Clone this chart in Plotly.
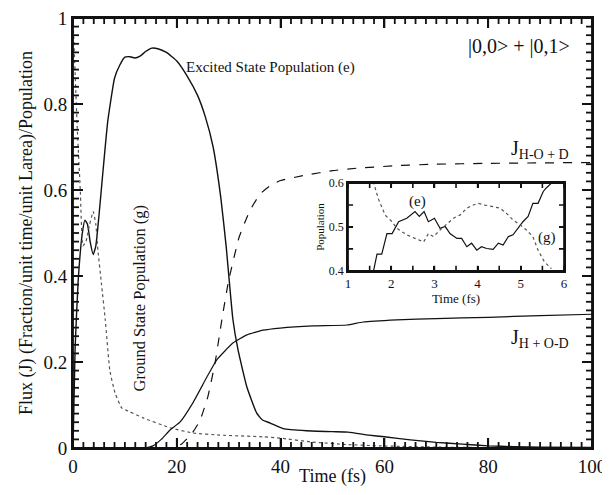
import plotly.graph_objects as go

# ---------------- main data ----------------
t_e = [0, 0.4, 1.0, 1.8, 2.3, 2.8, 3.3, 3.9, 4.4, 5.0, 5.6, 6.7, 8.0, 9.0, 10.0, 11.0, 11.9, 13.0, 14.0, 15.2, 16.5, 18.0,
       20.0, 22.0, 24.0, 25.5, 27.0, 28.5, 29.5, 30.8, 31.8, 33.5, 35.4, 36.5, 38.0, 40.5, 45.0, 50.0, 53.0,
       57.0, 60.0, 65.0, 70.0, 75.0, 80.0, 85.0, 90.0, 100.0]
excited = [0.0, 0.23, 0.39, 0.5, 0.53, 0.52, 0.48, 0.45, 0.47, 0.54, 0.62, 0.76, 0.86, 0.89, 0.909, 0.91, 0.907, 0.912, 0.922, 0.93, 0.928, 0.92,
           0.9, 0.865, 0.82, 0.77, 0.7, 0.58, 0.47, 0.3, 0.228, 0.142, 0.081, 0.065, 0.058, 0.045, 0.04, 0.038, 0.037,
           0.03, 0.026, 0.019, 0.013, 0.009, 0.005, 0.003, 0.002, 0.001]

t_g = [0, 0.8, 1.4, 1.9, 2.5, 3.2, 3.9, 4.4, 4.8, 5.5, 6.2, 7.1, 8.1, 9.4, 11.0, 13.5, 18.7, 23.1, 28.3, 36.6, 39.9,
       46.0, 52.8, 59.0, 70.0, 80.0, 100.0]
ground = [1.0, 0.75, 0.6, 0.47, 0.48, 0.52, 0.55, 0.52, 0.46, 0.38, 0.3, 0.18, 0.128, 0.093, 0.084, 0.07, 0.047, 0.035, 0.03, 0.026, 0.023,
          0.014, 0.008, 0.005, 0.002, 0.001, 0.0]

t_jd = [0, 19.5, 21.0, 23.0, 24.5, 26.0, 27.4, 28.7, 30.0, 32.0, 34.0, 36.0, 38.0, 40.0, 45.0, 50.0, 55.0,
        63.0, 70.0, 80.0, 90.0, 100.0]
j_hod = [0, 0, 0.01, 0.035, 0.065, 0.12, 0.2, 0.3, 0.39, 0.49, 0.55, 0.59, 0.61, 0.622, 0.635, 0.645, 0.651,
         0.657, 0.66, 0.662, 0.663, 0.664]

t_jh = [0, 13.7, 15.4, 17.0, 18.7, 20.6, 23.1, 25.8, 27.7, 30.8, 33.5, 36.6, 39.9, 46.2, 52.8, 55.9,
        62.4, 70.0, 80.0, 90.0, 100.0]
j_hod2 = [0, 0, 0.005, 0.02, 0.042, 0.06, 0.105, 0.165, 0.205, 0.244, 0.263, 0.274, 0.279, 0.284, 0.286, 0.293,
          0.298, 0.301, 0.304, 0.308, 0.311]

# ---------------- inset data ----------------
ti_e = [1.59, 1.67, 1.78, 1.9, 2.02, 2.17, 2.36, 2.55, 2.65, 2.76, 2.86, 3.0, 3.13, 3.25, 3.36, 3.52, 3.63,
        3.75, 3.86, 3.98, 4.09, 4.21, 4.36, 4.48, 4.59, 4.71, 4.82, 4.94, 5.05, 5.17, 5.28, 5.4, 5.52, 5.59, 5.71]
ins_e = [0.4, 0.438, 0.438, 0.485, 0.485, 0.512, 0.52, 0.535, 0.524, 0.535, 0.512, 0.52, 0.497, 0.501, 0.485,
         0.474, 0.474, 0.455, 0.463, 0.447, 0.455, 0.451, 0.449, 0.463, 0.459, 0.478, 0.482, 0.497, 0.512, 0.524,
         0.554, 0.554, 0.581, 0.589, 0.6]
ti_g = [1.5, 1.59, 1.71, 1.86, 2.02, 2.13, 2.36, 2.55, 2.75, 2.86, 2.98, 3.13, 3.28, 3.44, 3.59, 3.75, 3.9,
        4.02, 4.17, 4.32, 4.52, 4.67, 4.82, 4.98, 5.13, 5.28, 5.4, 5.55, 5.71]
ins_g = [0.63, 0.6, 0.562, 0.527, 0.512, 0.497, 0.482, 0.474, 0.466, 0.485, 0.478, 0.493, 0.505, 0.52, 0.527,
         0.543, 0.55, 0.554, 0.55, 0.547, 0.543, 0.531, 0.516, 0.505, 0.493, 0.478, 0.447, 0.42, 0.405]

# ---------------- ticks ----------------
x_ticks = [0, 20, 40, 60, 80, 100]
x_minor = [v for v in range(0, 101, 2) if v % 20]
y_ticks = [0, 0.2, 0.4, 0.6, 0.8, 1]
y_ticklabels = ["0", "0.2", "0.4", "0.6", "0.8", "1"]
y_minor = [i / 50 for i in range(0, 51) if i % 10]
ins_xticks = [1, 2, 3, 4, 5, 6]
ins_xall = [1, 1.5, 2, 2.5, 3, 3.5, 4, 4.5, 5, 5.5, 6]
ins_yticks = [0.4, 0.5, 0.6]
ins_ylabels = ["0.4", "0.5", "0.6"]
ins_yall = [0.4, 0.45, 0.5, 0.55, 0.6]

FONT = "Liberation Serif"
BLK = "#111111"

# figure geometry (plot area 519 x 430 px)
W, H = 594, 479
ML, MR, MT, MB = 65, 10, 10, 39
PW, PH = W - ML - MR, H - MT - MB
XR, YR = (0, 100), (0, 1)
IXR, IYR = (1, 6), (0.4, 0.6)
IXD, IYD = (0.530, 0.946), (0.412, 0.616)


def vsegs(vals, a, b):
    xs, ys = [], []
    for v in vals:
        xs += [v, v, None]
        ys += [a, b, None]
    return xs, ys


def hsegs(vals, a, b):
    ys, xs = vsegs(vals, a, b)
    return xs, ys


fig = go.Figure()
fig.add_trace(go.Scatter(x=t_e, y=excited, mode="lines", line=dict(color=BLK, width=1.4, shape="spline", smoothing=0.4)))
fig.add_trace(go.Scatter(x=t_g, y=ground, mode="lines", line=dict(color="#555555", width=1.2, dash="dot", shape="spline", smoothing=0.4)))
fig.add_trace(go.Scatter(x=t_jd, y=j_hod, mode="lines", line=dict(color=BLK, width=1.2, dash="dash", shape="spline", smoothing=0.4)))
fig.add_trace(go.Scatter(x=t_jh, y=j_hod2, mode="lines", line=dict(color=BLK, width=1.2, shape="spline", smoothing=0.4)))

fig.add_trace(go.Scatter(x=ti_e, y=ins_e, mode="lines", xaxis="x2", yaxis="y2", line=dict(color=BLK, width=1.2)))
fig.add_trace(go.Scatter(x=ti_g, y=ins_g, mode="lines", xaxis="x2", yaxis="y2", line=dict(color="#555555", width=1.2, dash="dot")))

# tick marks (inside, on all four sides), lengths converted from pixels to data units
px_x = (XR[1] - XR[0]) / PW
px_y = (YR[1] - YR[0]) / PH
tick_sets = []
for vals, L in ((x_ticks, 10), (x_minor, 6)):
    tick_sets.append(vsegs(vals, YR[0], YR[0] + L * px_y))
    tick_sets.append(vsegs(vals, YR[1], YR[1] - L * px_y))
for vals, L in ((y_ticks, 10), (y_minor, 6)):
    tick_sets.append(hsegs(vals, XR[0], XR[0] + L * px_x))
    tick_sets.append(hsegs(vals, XR[1], XR[1] - L * px_x))
for xs, ys in tick_sets:
    fig.add_trace(go.Scatter(x=xs, y=ys, mode="lines", connectgaps=False, cliponaxis=False,
                             line=dict(color=BLK, width=1.8, simplify=False), hoverinfo="skip"))

ipx_x = (IXR[1] - IXR[0]) / (PW * (IXD[1] - IXD[0]))
ipx_y = (IYR[1] - IYR[0]) / (PH * (IYD[1] - IYD[0]))
for xs, ys in (vsegs(ins_xall, IYR[0], IYR[0] + 5 * ipx_y), vsegs(ins_xall, IYR[1], IYR[1] - 5 * ipx_y),
               hsegs(ins_yall, IXR[0], IXR[0] + 5 * ipx_x), hsegs(ins_yall, IXR[1], IXR[1] - 5 * ipx_x)):
    fig.add_trace(go.Scatter(x=xs, y=ys, mode="lines", xaxis="x2", yaxis="y2", connectgaps=False, cliponaxis=False,
                             line=dict(color=BLK, width=1.6, simplify=False), hoverinfo="skip"))

main_ax = dict(ticks="inside", ticklen=10, tickwidth=2, tickcolor=BLK, showline=True, linecolor=BLK, linewidth=2,
               mirror="ticks", showgrid=False, zeroline=False, tickfont=dict(family=FONT, size=19, color=BLK),
               automargin=False, ticklabeloverflow="allow")
ins_ax = dict(ticks="inside", ticklen=5, tickwidth=2, tickcolor=BLK, showline=True, linecolor=BLK, linewidth=2,
              mirror="ticks", showgrid=False, zeroline=False, automargin=False, ticklabeloverflow="allow")

fig.update_layout(
    template="none",
    width=W, height=H,
    margin=dict(l=ML, r=MR, t=MT, b=MB, autoexpand=False),
    paper_bgcolor="white", plot_bgcolor="white",
    showlegend=False,
    font=dict(family=FONT, color=BLK),
    xaxis=dict(range=list(XR), tickmode="array", tickvals=x_ticks,
               title=dict(text="Time (fs)", font=dict(family=FONT, size=18), standoff=0), **main_ax),
    yaxis=dict(range=list(YR), tickmode="array", tickvals=y_ticks, ticktext=y_ticklabels,
               title=dict(text="Flux (J) (Fraction/unit time/unit Larea)/Population", font=dict(family=FONT, size=18), standoff=6),
               **main_ax),
    xaxis2=dict(domain=list(IXD), anchor="y2", range=list(IXR), tickmode="array", tickvals=ins_xticks,
                tickfont=dict(family=FONT, size=13, color=BLK),
                title=dict(text="Time (fs)", font=dict(family=FONT, size=13), standoff=0), **ins_ax),
    yaxis2=dict(domain=list(IYD), anchor="x2", range=list(IYR), tickmode="array", tickvals=ins_yticks,
                ticktext=ins_ylabels, tickfont=dict(family=FONT, size=12, color=BLK),
                title=dict(text="Population", font=dict(family=FONT, size=11), standoff=2), **ins_ax),
)

# frames (outline only)
fig.add_shape(type="rect", xref="x domain", yref="y domain", x0=0, x1=1, y0=0, y1=1,
              fillcolor="rgba(0,0,0,0)", opacity=1, layer="above", line=dict(color=BLK, width=1.8))
fig.add_shape(type="rect", xref="x2 domain", yref="y2 domain", x0=0, x1=1, y0=0, y1=1,
              fillcolor="rgba(0,0,0,0)", opacity=1, layer="above", line=dict(color=BLK, width=1.6))

ann = dict(showarrow=False, font=dict(family=FONT, size=15, color=BLK))
fig.add_annotation(x=38.0, y=0.885, xref="x", yref="y", text="Excited State Population (e)", **ann)
fig.add_annotation(x=12.9, y=0.35, xref="x", yref="y", text="Ground State Population (g)", textangle=-90,
                   showarrow=False, font=dict(family=FONT, size=16.5, color=BLK))
fig.add_annotation(x=86, y=0.933, xref="x", yref="y", text="|0,0&gt; + |0,1&gt;",
                   showarrow=False, font=dict(family=FONT, size=20, color=BLK))
fig.add_annotation(x=90, y=0.695, xref="x", yref="y", text="J<sub>H-O + D</sub>",
                   showarrow=False, font=dict(family=FONT, size=20, color=BLK))
fig.add_annotation(x=90, y=0.255, xref="x", yref="y", text="J<sub>H + O-D</sub>",
                   showarrow=False, font=dict(family=FONT, size=20, color=BLK))
fig.add_annotation(x=2.6, y=0.558, xref="x2", yref="y2", text="(e)", showarrow=False,
                   font=dict(family=FONT, size=15, color=BLK))
fig.add_annotation(x=5.6, y=0.475, xref="x2", yref="y2", text="(g)", showarrow=False,
                   font=dict(family=FONT, size=15, color=BLK))

fig.write_html("out.html")
